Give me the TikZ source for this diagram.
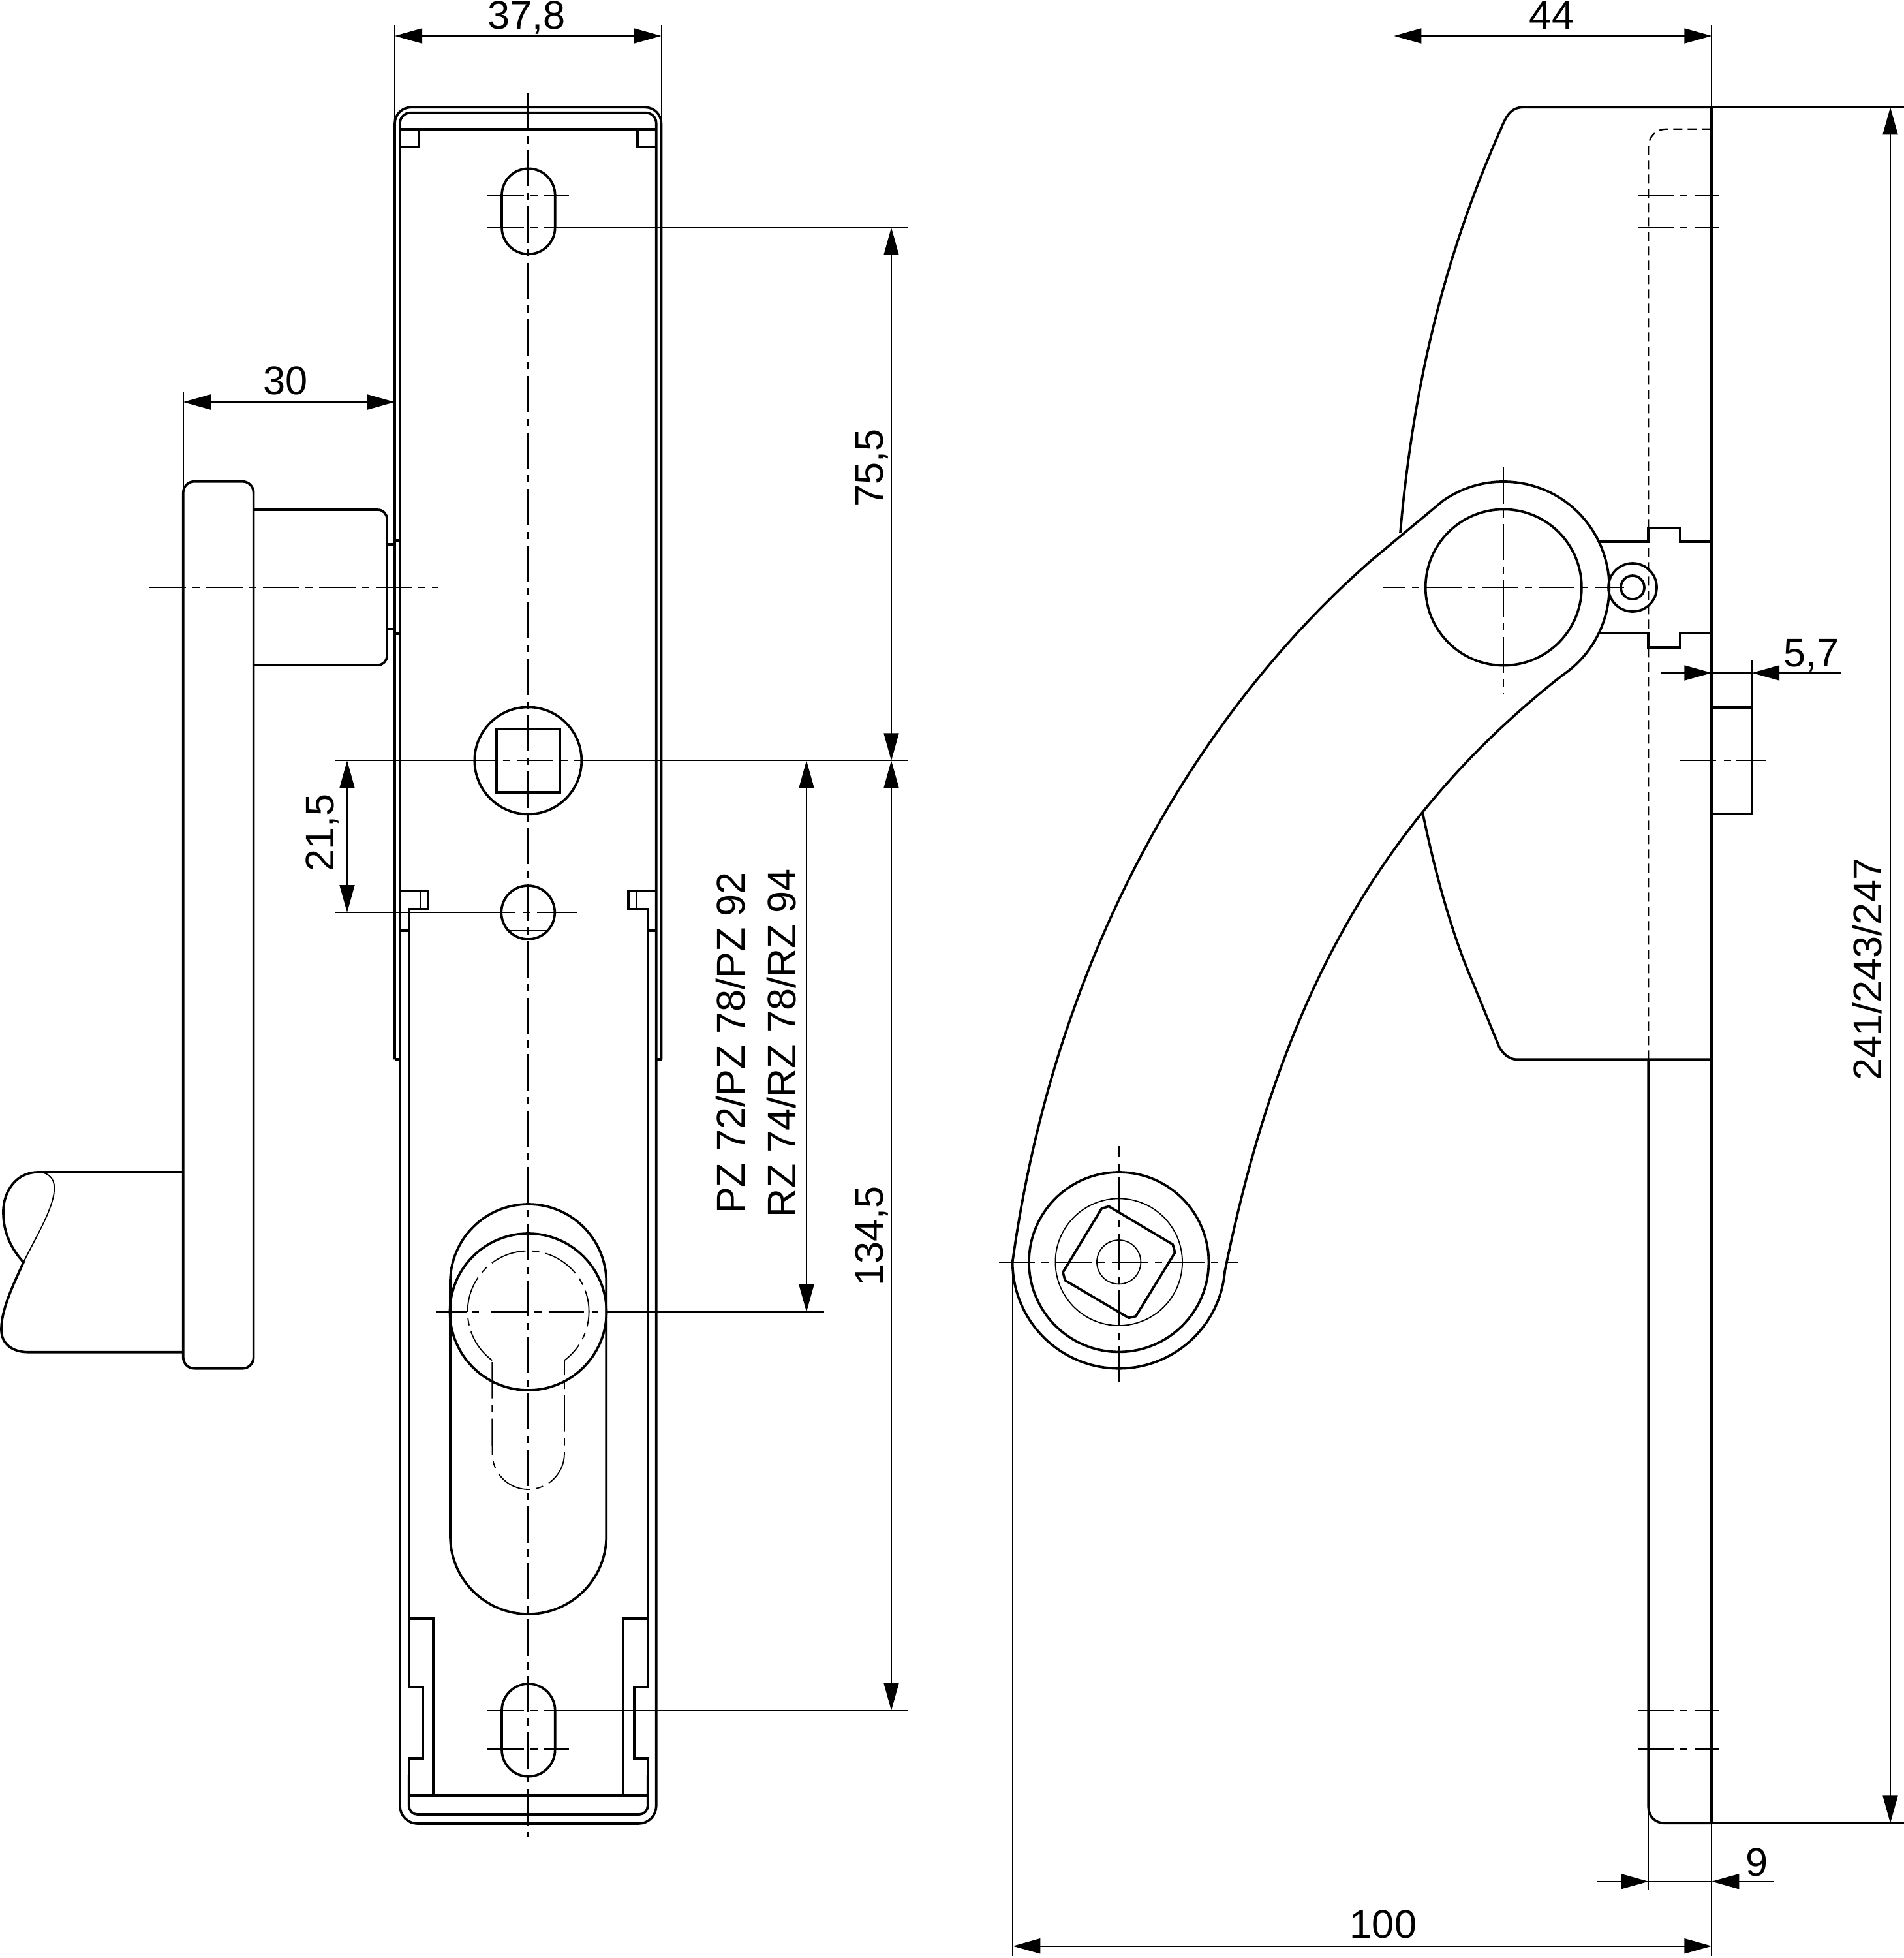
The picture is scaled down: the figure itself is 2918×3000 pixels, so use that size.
\documentclass[tikz,border=0pt]{standalone}
\usepackage{fontspec}
\setmainfont{Liberation Sans}
\usetikzlibrary{arrows.meta}
\tikzset{
 thickln/.style={line width=0.92pt},
 thinln/.style={line width=0.45pt},
 midln/.style={line width=0.55pt},
 cl/.style={line width=0.45pt,dash pattern=on 13.9pt off 2.5pt on 2.75pt off 2.5pt},
 hid/.style={line width=0.58pt,dash pattern=on 3.5pt off 2pt},
 dimboth/.style={line width=0.45pt,{Triangle[length=10.5pt,width=5.75pt]}-{Triangle[length=10.5pt,width=5.75pt]}},
 dimend/.style={line width=0.45pt,-{Triangle[length=10.5pt,width=5.75pt]}},
 lbl/.style={inner sep=0pt,anchor=base,font=\fontsize{15.3}{18}\selectfont},
 vlbl/.style={lbl,rotate=90}
}
\begin{document}
\begin{tikzpicture}[x=0.25pt,y=-0.25pt]
\useasboundingbox (0,0) rectangle (2918,3000);
\fill[white] (0,0) rectangle (2918,3000);
%% ---------- front view ----------
\draw[thickln,rounded corners=6.25pt] (605,1623.3)--(605,164.3)--(1013.5,164.3)--(1013.5,1623.3);
\draw[thickln] (604.6,1623.3)--(613,1623.3) (1013.9,1623.3)--(1005.7,1623.3);
\draw[thickln,rounded corners=4pt] (613,1500)--(613,172.7)--(1005.7,172.7)--(1005.7,1500);
\draw[thickln,rounded corners=6.75pt] (613,1500)--(613,2794)--(1005.7,2794)--(1005.7,1500);
\draw[thickln] (613,197.7)--(1005.7,197.7);
\draw[thickln] (613,225)--(642,225)--(642,197.7);
\draw[thickln] (1005.7,225)--(976.7,225)--(976.7,197.7);
% hooks and inner channel
\draw[thickln] (613,1365)--(656,1365)--(656,1393)--(626.7,1393)--(626.7,2585)--(648.3,2585)--(648.3,2694)--(626.7,2694)--(626.7,2720);
\draw[thickln] (1005.7,1365)--(963.3,1365)--(963.3,1393)--(992.7,1393)--(992.7,2585)--(971.7,2585)--(971.7,2694)--(992.7,2694)--(992.7,2720);
\draw[thickln,rounded corners=3.25pt] (626.7,2720)--(626.7,2780)--(992.7,2780)--(992.7,2720);
\draw[midln] (644.3,1365)--(644.3,1393) (975,1365)--(975,1393);
\draw[thickln] (613,1426)--(626.7,1426) (992.7,1426)--(1005.7,1426);
\draw[thickln] (626.7,2750.7)--(992.7,2750.7);
\draw[thickln] (626.7,2480)--(664.3,2480)--(664.3,2750.7);
\draw[thickln] (992.7,2480)--(955,2480)--(955,2750.7);
% slots
\draw[thickln,rounded corners=10.2pt] (769,258.3) rectangle (850.7,389.3);
\draw[thickln,rounded corners=10.2pt] (769,2580) rectangle (850.7,2721.7);
% square spindle
\draw[thickln] (809.3,1165.4) circle[radius=82];
\draw[thickln] (761,1116.8) rectangle (857.7,1214);
\draw[thickln] (809.3,1398) circle[radius=41];
\draw[midln] (780,1426)--(838,1426);
% escutcheon
\draw[thickln,rounded corners=29.9pt] (690,1845) rectangle (929.3,2473);
\draw[thickln] (809.5,2010) circle[radius=120];
\draw[cl] (754.3,2084.3) arc[start angle=126.5,end angle=413.5,radius=93] -- (865,2226.7) arc[start angle=0,end angle=180,radius=55.3] -- cycle;
% centre lines front
\draw[cl] (809.3,143)--(809.3,2815);
\draw[cl] (747.3,299.7)--(871.7,299.7);
\draw[cl] (747.3,348.7)--(871.7,348.7);
\draw[cl] (747.3,2620.7)--(871.7,2620.7);
\draw[cl] (747.3,2680)--(871.7,2680);
\draw[thinln] (871,348.7)--(1391,348.7);
\draw[thinln] (871,2620.7)--(1391,2620.7);
\draw[thinln] (513,1165.4)--(760,1165.4) (770.7,1165.4)--(781.7,1165.4) (792.7,1165.4)--(847,1165.4) (860,1165.4)--(870,1165.4) (880,1165.4)--(1391,1165.4);
\draw[thinln] (513,1398)--(790,1398) (801,1398)--(813,1398) (823,1398)--(884,1398);
\draw[thinln] (667.7,2010)--(715,2010) (723,2010)--(734,2010) (753,2010)--(810,2010) (819,2010)--(830,2010) (840.7,2010)--(895,2010) (906.7,2010)--(916.7,2010) (928,2010)--(1263,2010);
%% ---------- side view left ----------
\draw[thickln,rounded corners=4.25pt] (280.8,737.7) rectangle (388.6,2096.7);
\draw[thickln,rounded corners=3.5pt] (388.6,781)--(593,781)--(593,1019)--(388.6,1019);
\draw[thickln] (593,834.3)--(605,834.3) (605,828.3)--(613,828.3) (593,964.3)--(605,964.3) (605,970.7)--(613,970.7);
\draw[cl] (229.4,900.3)--(672,900.3);
\draw[thickln] (280.8,1796)--(58,1796) .. controls (25,1796) and (5,1825) .. (5,1857) .. controls (5,1890) and (18,1914) .. (36,1934) .. controls (22,1965) and (2,2005) .. (2,2037) .. controls (2,2060) and (20,2071.7) .. (43,2071.7) -- (280.8,2071.7);
\draw[thinln] (58,1796) .. controls (75,1796) and (83.3,1806) .. (83.3,1820) .. controls (83.3,1850) and (55,1895) .. (36,1934);
%% ---------- right view ----------
\draw[thickln] (2623.3,164.3)--(2623.3,2793.3);
\draw[thickln] (2623.3,164.3)--(2335,164.3) .. controls (2318,164.3) and (2310,173) .. (2300,198) .. controls (2210,400) and (2165,600) .. (2146,816);
\draw[thickln] (2180,1244) .. controls (2200,1340) and (2225,1430) .. (2255,1500) -- (2298,1605) .. controls (2305,1617) and (2315,1623.3) .. (2325,1623.3) -- (2623.3,1623.3);
\draw[hid,rounded corners=6.75pt] (2526.3,1623.3)--(2526.3,197.7)--(2623.3,197.7);
\draw[thickln,rounded corners=6pt] (2526.3,1623.3)--(2526.3,2793.3)--(2623.3,2793.3);
\draw[thickln] (2451,830)--(2526,830)--(2526,808.5)--(2575,808.5)--(2575,830)--(2623.3,830);
\draw[thickln] (2451,970.5)--(2526,970.5)--(2526,992)--(2575,992)--(2575,970.5)--(2623.3,970.5);
% arm
\draw[thickln] (1551.7,1933.7) .. controls (1620,1440) and (1850,1080) .. (2100,860) -- (2211.6,767.1) arc[start angle=-124.9,end angle=56.3,radius=162] .. controls (2088,1275) and (1953,1576) .. (1877.1,1947.9) arc[start angle=5,end angle=180,radius=163] -- cycle;
\draw[thickln] (2304.3,900) circle[radius=119.6];
\draw[thickln] (2502,900) circle[radius=37];
\draw[thickln] (2502,900) circle[radius=18];
\draw[thickln] (1714.7,1933.7) circle[radius=137.7];
\draw[thinln] (1714.7,1933.7) circle[radius=97.3];
\draw[thinln] (1714.7,1933.7) circle[radius=33.7];
\draw[thickln,line join=round] (1688.3,1851.7)--(1699.3,1848.3)--(1797.3,1906.7)--(1800.7,1919)--(1740.7,2016.7)--(1730,2019.3)--(1632.3,1961.7)--(1629,1949.3)--cycle;
\draw[thickln] (2623.3,1084)--(2685,1084)--(2685,1246.4)--(2623.3,1246.4);
% centre lines right
\draw[cl,dash phase=5.5pt] (2120,900)--(2489.3,900);
\draw[cl] (2304.3,716)--(2304.3,1062.6);
\draw[cl] (1530.7,1933.7)--(1898.3,1933.7);
\draw[cl,dash phase=9.75pt] (1714.7,1756)--(1714.7,2118.3);
\draw[thinln] (2574,1165.4)--(2630,1165.4) (2641.5,1165.4)--(2653,1165.4) (2661,1165.4)--(2706.7,1165.4);
\foreach \yy in {299.7,348.7,2620.7,2680}{
 \draw[thinln] (2510,\yy)--(2565,\yy) (2575,\yy)--(2586,\yy) (2596.7,\yy)--(2634.3,\yy);
}
%% ---------- dimensions ----------
% 37,8
\draw[thinln] (605,39)--(605,190) (1013.5,39)--(1013.5,190);
\draw[dimboth] (605,55)--(1013.5,55);
\node[lbl] (d378) at (807,44) {37,8};
% 44
\draw[thinln] (2136.4,39)--(2136.4,813.6) (2623.3,39)--(2623.3,164.3);
\draw[dimboth] (2136.4,55)--(2623.3,55);
\node[lbl] (d44) at (2378,44) {44};
% 30
\draw[thinln] (280.8,601)--(280.8,750);
\draw[dimboth] (280.8,616)--(605,616);
\node[lbl] (d30) at (438,604) {30};
% 75,5 and 134,5
\draw[dimboth] (1366,348.7)--(1366,1165.4);
\draw[dimboth] (1366,1165.4)--(1366,2620.7);
\node[vlbl] (d755) at (1353,717) {75,5};
\node[vlbl] (d1345) at (1353,1894) {134,5};
% PZ
\draw[dimboth] (1236,1165.4)--(1236,2010);
\node[vlbl] (dpz) at (1141,1598) {PZ 72/PZ 78/PZ 92};
\node[vlbl] (drz) at (1219,1598) {RZ 74/RZ 78/RZ 94};
% 21,5
\draw[dimboth] (532,1165.4)--(532,1398);
\node[vlbl] (d215) at (511,1276) {21,5};
% 241/243/247
\draw[thinln] (2623.3,164.3)--(2918,164.3) (2623.3,2793.3)--(2918,2793.3);
\draw[dimboth] (2897,164.3)--(2897,2793.3);
\node[vlbl] (dhgt) at (2883,1485) {241/243/247};
% 5,7
\draw[thinln] (2685,1012)--(2685,1084);
\draw[dimend] (2544.7,1031)--(2623.3,1031);
\draw[dimend] (2822,1031)--(2685,1031);
\draw[thinln] (2623.3,1031)--(2685,1031);
\node[lbl] (d57) at (2776,1021) {5,7};
% 9
\draw[thinln] (2526.3,2767)--(2526.3,2896) (2623.3,2793.3)--(2623.3,2996.7);
\draw[dimend] (2447.3,2882.7)--(2526.3,2882.7);
\draw[dimend] (2719.3,2882.7)--(2623.3,2882.7);
\draw[thinln] (2526.3,2882.7)--(2623.3,2882.7);
\node[lbl] (d9) at (2692,2874) {9};
% 100
\draw[thinln] (1552.3,1933.7)--(1552.3,2996.7);
\draw[dimboth] (1552.3,2981.7)--(2623.3,2981.7);
\node[lbl] (d100) at (2120,2969) {100};
\end{tikzpicture}
\end{document}
